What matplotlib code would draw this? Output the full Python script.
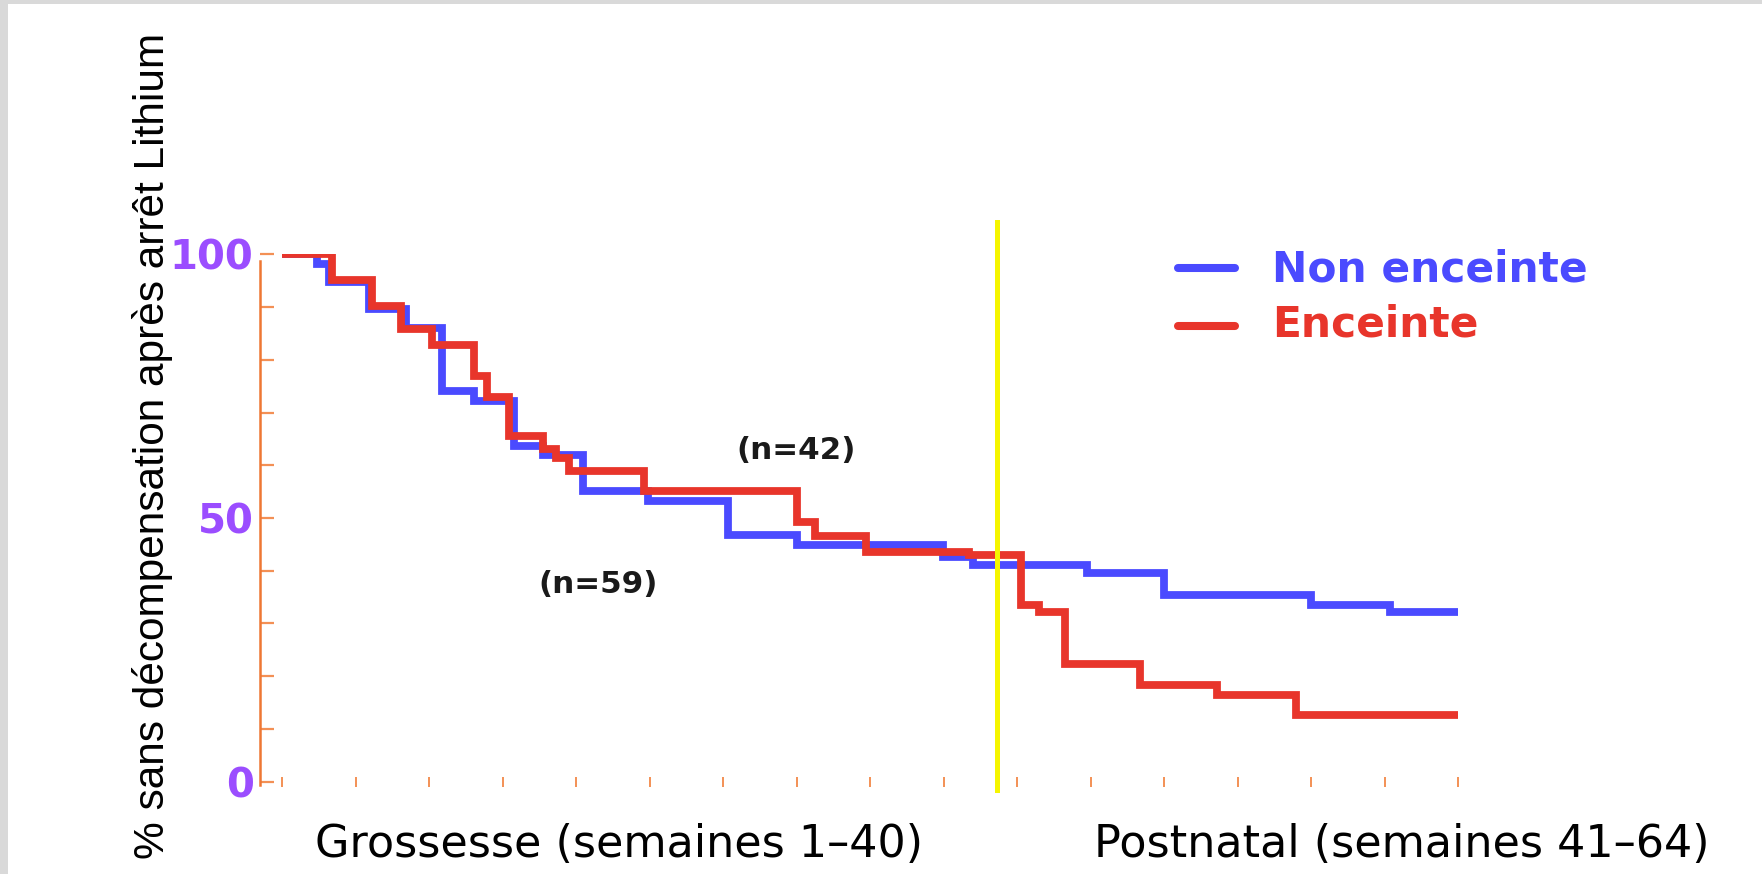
import matplotlib
matplotlib.use("Agg")
import matplotlib.pyplot as plt
from matplotlib.patches import Rectangle
from matplotlib.lines import Line2D

# Kaplan-Meier style survival data (weeks after lithium discontinuation, % without relapse)
weeks_non_enceinte = [0, 1.92, 2.56, 4.76, 6.74, 8.73, 10.46, 12.64, 14.19, 16.36,
                      19.9, 24.25, 28.0, 35.97, 37.6, 43.8, 48.0, 56.0, 60.3, 64]
surv_non_enceinte = [100, 98.1, 94.8, 89.6, 86.1, 74.1, 72.2, 63.7, 62.0, 55.2,
                     53.2, 46.8, 44.8, 42.6, 41.1, 39.5, 35.4, 33.5, 32.2, 32.2]

weeks_enceinte = [0, 2.74, 4.88, 6.5, 8.19, 10.46, 11.18, 12.37, 14.2, 14.9, 15.6,
                  19.72, 28.0, 29.0, 31.8, 37.4, 40.2, 41.2, 42.6, 46.7, 50.9, 55.2, 64]
surv_enceinte = [100, 95.2, 90.2, 85.8, 82.9, 77.0, 72.9, 65.6, 63.0, 61.3, 59.0,
                 55.2, 49.2, 46.5, 43.6, 42.9, 33.5, 32.2, 22.2, 18.4, 16.5, 12.7, 12.7]

birth_week = 38.9
x_ticks = list(range(0, 65, 4))
y_major = [0, 50, 100]
y_minor = [10, 20, 30, 40, 60, 70, 80, 90]

series_labels = ["Non enceinte", "Enceinte"]
n_labels = ["(n=42)", "(n=59)"]
y_label = "% sans décompensation après arrêt Lithium"
x_label_left = "Grossesse (semaines 1–40)"
x_label_right = "Postnatal (semaines 41–64)"

BLUE = "#4a4aff"
RED = "#e8352b"
PURPLE = "#9b4dff"
ORANGE = "#ee7733"
ORANGE_TICK = "#f39055"
YELLOW = "#f5f500"

W, H = 1762, 874
fig = plt.figure(figsize=(W / 100, H / 100), dpi=100)
fig.patch.set_facecolor("white")


def fx(px):
    return px / W


def fy(py):
    return 1 - py / H


# thin grey frame on the left and top edges
fig.add_artist(Rectangle((0, 0), fx(8), 1, transform=fig.transFigure,
                         color="#d9d9d9", lw=0))
fig.add_artist(Rectangle((0, fy(4)), 1, 4 / H, transform=fig.transFigure,
                         color="#d9d9d9", lw=0))

ax = fig.add_axes([fx(282), fy(781.5), (1458 - 282) / W, (781.5 - 254.4) / H])
ax.set_xlim(0, 64)
ax.set_ylim(0, 100)
ax.patch.set_alpha(0)

ax.step(weeks_non_enceinte, surv_non_enceinte, where="post", color=BLUE, lw=5.6,
        solid_capstyle="butt", solid_joinstyle="miter", zorder=3)
ax.step(weeks_enceinte, surv_enceinte, where="post", color=RED, lw=5.6,
        solid_capstyle="butt", solid_joinstyle="miter", zorder=4)

# birth marker
ax.axvline(birth_week, ymin=-0.016, ymax=1.0615, color=YELLOW, lw=3.6,
           clip_on=False, zorder=5)

for side in ("top", "right", "bottom"):
    ax.spines[side].set_visible(False)
ax.spines["left"].set_position(("outward", 16))
ax.spines["left"].set_color(ORANGE)
ax.spines["left"].set_linewidth(1.8)
ax.spines["left"].set_bounds(-0.7, 98.7)

ax.set_xticks(x_ticks)
ax.tick_params(axis="x", direction="inout", length=7.2, width=1.4,
               color=ORANGE_TICK, labelbottom=False)
ax.set_yticks(y_major)
ax.set_yticks(y_minor, minor=True)
ax.set_yticklabels([str(v) for v in y_major])
ax.tick_params(axis="y", which="both", direction="in", length=10, width=1.6,
               color=ORANGE_TICK, pad=4.5)
for lab in ax.get_yticklabels():
    lab.set_fontfamily("DejaVu Sans")
    lab.set_fontweight("bold")
    lab.set_fontsize(29)
    lab.set_color(PURPLE)

# axis titles
fig.text(fx(153), fy(446), y_label, rotation=90, ha="center", va="center",
         fontsize=30.5, family="Liberation Sans", color="black")
fig.text(fx(619), fy(857), x_label_left, ha="center", va="baseline",
         fontsize=32, family="DejaVu Sans", color="black")
fig.text(fx(1402), fy(857), x_label_right, ha="center", va="baseline",
         fontsize=32, family="DejaVu Sans", color="black")

# sample sizes
fig.text(fx(796), fy(459), n_labels[0], ha="center", va="baseline",
         fontsize=22.3, family="DejaVu Sans", fontweight="bold", color="#1a1a1a")
fig.text(fx(598), fy(593), n_labels[1], ha="center", va="baseline",
         fontsize=22.3, family="DejaVu Sans", fontweight="bold", color="#1a1a1a")

# legend
for label, color, ly, base in ((series_labels[0], BLUE, 267.7, 282),
                               (series_labels[1], RED, 326, 337)):
    fig.add_artist(Line2D([fx(1178), fx(1235)], [fy(ly), fy(ly)],
                          transform=fig.transFigure, color=color, lw=5.8,
                          solid_capstyle="round"))
    fig.text(fx(1272), fy(base), label, ha="left", va="baseline",
             fontsize=30.5, family="DejaVu Sans", fontweight="bold", color=color)

fig.savefig("out.png", dpi=100, facecolor="white")
